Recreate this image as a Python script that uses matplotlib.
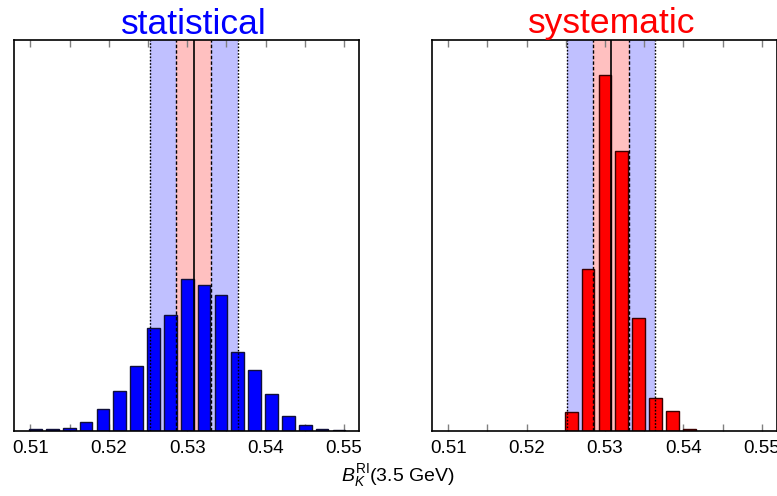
import matplotlib
matplotlib.use("Agg")
import matplotlib.pyplot as plt
from matplotlib.transforms import blended_transform_factory

plt.rcParams['font.family'] = ['Liberation Sans', 'DejaVu Sans']
plt.rcParams['mathtext.fontset'] = 'custom'
plt.rcParams['mathtext.rm'] = 'Liberation Sans'
plt.rcParams['mathtext.it'] = 'Liberation Sans:italic'

# ---- data ----
bin_centers = [0.51064, 0.51279, 0.51494, 0.51709, 0.51924, 0.52139, 0.52354,
               0.52569, 0.52784, 0.52999, 0.53214, 0.53429, 0.53644, 0.53859,
               0.54074, 0.54289, 0.54504, 0.54719, 0.54934]
stat_counts = [1.4, 1.4, 2.7, 8.7, 22, 40, 64.7, 102.4, 116, 152, 145.4, 136,
               78.4, 60.4, 36.7, 14.4, 5.7, 1.4, 0.5]
syst_centers = [0.52569, 0.52784, 0.52999, 0.53214, 0.53429, 0.53644, 0.53859, 0.54074]
syst_counts = [18.4, 162, 355.4, 279.7, 112.4, 32.4, 19.4, 2]

central = 0.5308
stat_err = 0.00228
total_err = 0.00561
titles = ["statistical", "systematic"]
title_colors = ["#0000ff", "#ff0000"]
bar_colors = ["#0000ff", "#ff0000"]
edge_colors = ["#10103a", "#3a0000"]
xticks_major = [0.51, 0.52, 0.53, 0.54, 0.55]
xticks_minor = [0.515, 0.525, 0.535, 0.545]
xlabel = r"$B_K^{\rm RI}$(3.5 GeV)"

W, H = 777, 496
fig = plt.figure(figsize=(W / 100, H / 100), dpi=100)
ax1 = fig.add_axes([14 / W, (H - 430.7) / H, 345 / W, 390.7 / H])
ax2 = fig.add_axes([431.7 / W, (H - 430.7) / H, 345 / W, 390.7 / H])

bw = 0.00162
datasets = [(bin_centers, stat_counts), (syst_centers, syst_counts)]
for i, ax in enumerate([ax1, ax2]):
    xs, ys = datasets[i]
    ax.axvspan(central - total_err, central + total_err, color="#c0c0ff", lw=0, zorder=0)
    ax.axvspan(central - stat_err, central + stat_err, color="#ffc0c0", lw=0, zorder=0.5)
    ax.bar(xs, ys, width=bw, color=bar_colors[i], edgecolor=edge_colors[i],
           linewidth=1.0, zorder=2)
    for s in (-1, 1):
        ax.axvline(central + s * total_err, color="black", ls=(0, (1.2, 1.2)), lw=1.0, zorder=3)
        ax.axvline(central + s * stat_err, color="black", ls=(0, (2.5, 1.5)), lw=1.0, zorder=3)
    ax.axvline(central, color="black", lw=1.2, zorder=3)
    ax.set_xlim(0.5079, 0.5519)
    ax.set_ylim(0, 390.7)
    ax.set_yticks([])
    ax.set_xticks(xticks_major)
    ax.set_xticklabels(["%.2f" % v for v in xticks_major])
    ax.set_xticks(xticks_minor, minor=True)
    ax.tick_params(axis='x', which='both', direction='in', top=True, bottom=True,
                   length=5, width=1.0, color="#808080", labelsize=13.5, pad=7)
    for sp in ax.spines.values():
        sp.set_linewidth(1.2)
        sp.set_color("black")
    tr = blended_transform_factory(ax.transData, fig.transFigure)
    ax.text(central, (H - 33.5) / H, titles[i], color=title_colors[i], fontsize=25.5,
            ha="center", va="baseline", transform=tr)

fig.text(398 / W, 1 - 476 / H, xlabel, ha="center", va="center", fontsize=14)

fig.savefig("out.png", dpi=100)
